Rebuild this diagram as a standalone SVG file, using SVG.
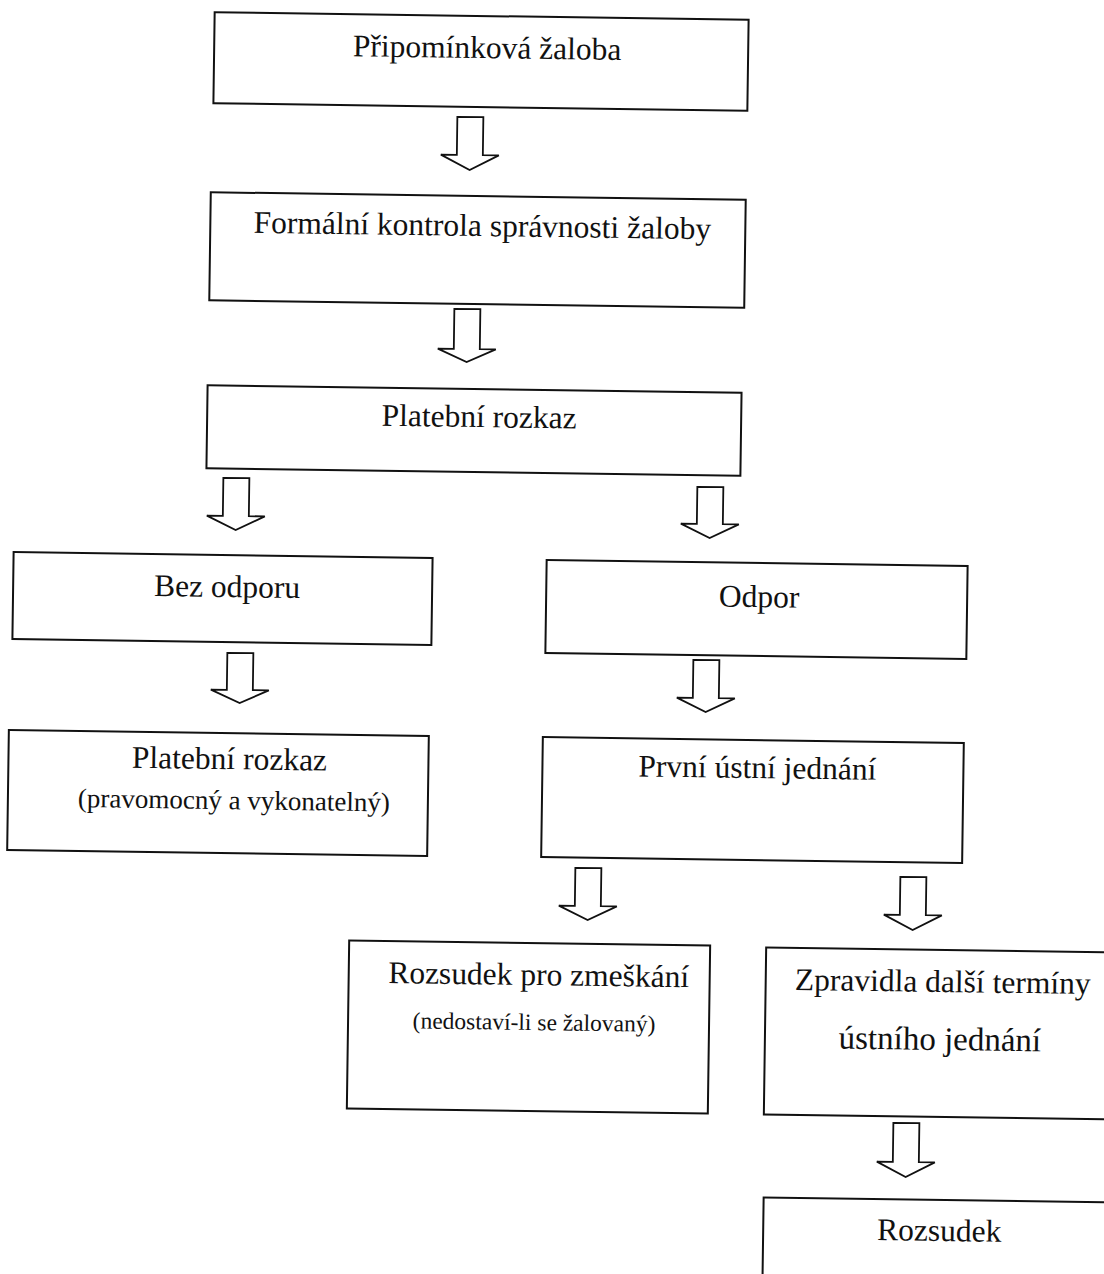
<svg xmlns="http://www.w3.org/2000/svg" width="1104" height="1274" viewBox="0 0 1104 1274">
<style>
.box{fill:#fff;stroke:#111;stroke-width:2}
.arr{fill:#fff;stroke:#111;stroke-width:1.8;stroke-linejoin:miter}
.t{font-family:"Liberation Serif","Times New Roman",serif;font-size:31.5px;fill:#111;text-anchor:middle}
.t33{font-size:33px}
.s{font-family:"Liberation Serif","Times New Roman",serif;fill:#111;text-anchor:middle}
</style>
<rect width="1104" height="1274" fill="#fff"/>
<g id="connectors">
<path class="arr" transform="rotate(0.8 470 143)" d="M457,117 H483 V155 H499 L470,170 L441,155 H457 Z"/>
<path class="arr" transform="rotate(0.8 467 335)" d="M454,309 H480 V349 H496 L467,362 L438,349 H454 Z"/>
<path class="arr" transform="rotate(0.8 236 504)" d="M223,478 H249 V516 H265 L236,530 L207,516 H223 Z"/>
<path class="arr" transform="rotate(0.8 710 512)" d="M697,487 H723 V524 H739 L710,538 L681,524 H697 Z"/>
<path class="arr" transform="rotate(0.8 240 678)" d="M227,653 H253 V690 H269 L240,703 L211,690 H227 Z"/>
<path class="arr" transform="rotate(0.8 706 686)" d="M693,660 H719 V698 H735 L706,712 L677,698 H693 Z"/>
<path class="arr" transform="rotate(0.8 588 894)" d="M575,868 H601 V906 H617 L588,920 L559,906 H575 Z"/>
<path class="arr" transform="rotate(0.8 913 903)" d="M900,877 H926 V915 H942 L913,930 L884,915 H900 Z"/>
<path class="arr" transform="rotate(0.8 906 1150)" d="M893,1123 H919 V1162 H935 L906,1177 L877,1162 H893 Z"/>
</g>
<g id="n1" transform="rotate(0.8 481 62)">
<rect class="box" x="214" y="16" width="534" height="91"/>
<text class="t" x="487" y="58">Připomínková žaloba</text>
</g>
<g id="n2" transform="rotate(0.8 478 250)">
<rect class="box" x="210" y="196" width="535" height="108"/>
<text class="t" x="482" y="236">Formální kontrola správnosti žaloby</text>
</g>
<g id="n3" transform="rotate(0.8 474 430)">
<rect class="box" x="207" y="389" width="534" height="83"/>
<text class="t" x="479" y="427">Platební rozkaz</text>
</g>
<g id="n4" transform="rotate(0.8 222 598)">
<rect class="box" x="13" y="555" width="419" height="87"/>
<text class="t" x="227" y="597">Bez odporu</text>
</g>
<g id="n5" transform="rotate(0.8 756 609)">
<rect class="box" x="546" y="563" width="421" height="93"/>
<text class="t" x="759" y="607">Odpor</text>
</g>
<g id="n6" transform="rotate(0.8 218 793)">
<rect class="box" x="8" y="733" width="420" height="120"/>
<text class="t" x="229" y="769">Platební rozkaz</text>
<text class="s" x="234" y="809" font-size="27">(pravomocný a vykonatelný)</text>
</g>
<g id="n7" transform="rotate(0.8 752 799)">
<rect class="box" x="542" y="740" width="421" height="120"/>
<text class="t" x="757" y="778">První ústní jednání</text>
</g>
<g id="n8" transform="rotate(0.8 528 1027)">
<rect class="box" x="348" y="943" width="361" height="168"/>
<text class="t" x="538" y="985">Rozsudek pro zmeškání</text>
<text class="s" x="534" y="1030" font-size="23.5">(nedostaví-li se žalovaný)</text>
</g>
<g id="n9" transform="rotate(0.8 945 1033)">
<rect class="box" x="765" y="950" width="360" height="167"/>
<text class="t" x="942" y="992">Zpravidla další termíny</text>
<text class="t t33" x="940" y="1050">ústního jednání</text>
</g>
<g id="n10" transform="rotate(0.8 943 1245)">
<rect class="box" x="763" y="1200" width="360" height="100"/>
<text class="t" x="939" y="1241">Rozsudek</text>
</g>
</svg>
